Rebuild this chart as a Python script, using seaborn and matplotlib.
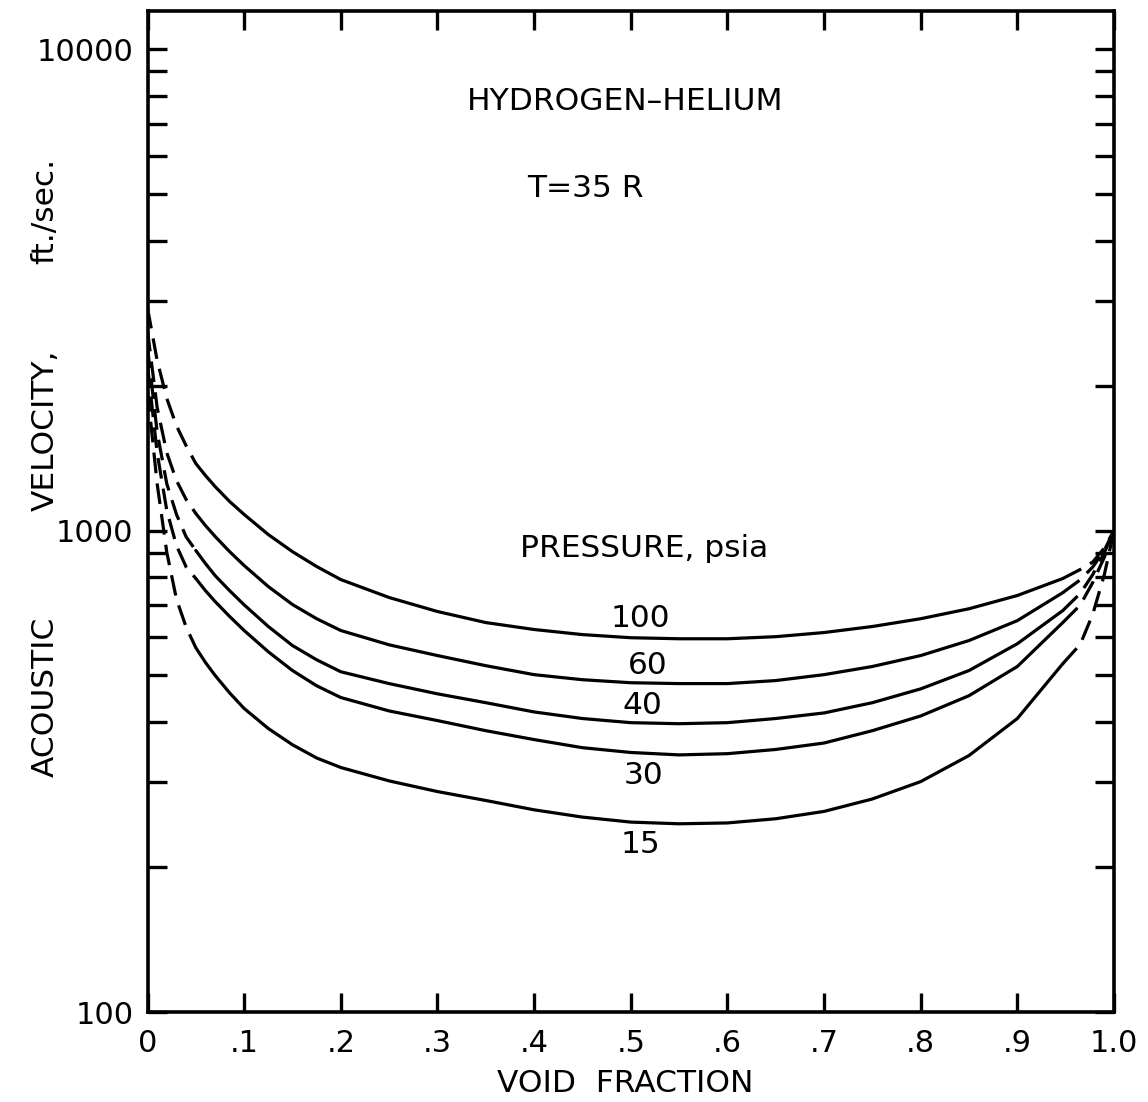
import numpy as np
import pandas as pd
import matplotlib
matplotlib.use("Agg")
import matplotlib.pyplot as plt
import seaborn as sns
from matplotlib.ticker import FixedLocator, NullFormatter, FixedFormatter

# ---------------- data ----------------
pressures = ["100", "60", "40", "30", "15"]

# solid portions of the curves
x_solid = [0.05, 0.06, 0.07, 0.085, 0.1, 0.125, 0.15, 0.175, 0.2, 0.25, 0.3, 0.35,
           0.4, 0.45, 0.5, 0.55, 0.6, 0.65, 0.7, 0.75, 0.8, 0.85, 0.9, 0.947]
v100_solid = [1378, 1301, 1234, 1149, 1080, 981, 904, 842, 791, 726, 679, 644,
              623, 608, 599, 596, 596, 602, 614, 632, 656, 688, 733, 795]
v60_solid = [1085, 1024, 972, 904, 846, 765, 702, 656, 620, 579, 550, 524,
             502, 490, 483, 481, 481, 488, 502, 522, 550, 591, 650, 743]
v40_solid = [909, 854, 806, 750, 701, 632, 577, 539, 509, 481, 458, 439,
             420, 407, 399, 397, 399, 407, 418, 439, 469, 512, 582, 682]
v30_solid = [795, 750, 712, 663, 620, 560, 512, 476, 450, 422, 403, 384,
             368, 354, 346, 342, 344, 351, 362, 384, 412, 454, 522, 644]
v15_solid = [571, 532, 500, 460, 427, 388, 359, 337, 322, 302, 287, 275,
             263, 254, 248, 246, 247, 252, 261, 277, 301, 341, 407, 529]

# dashed extrapolations toward void fraction 0
x_dash_left = [0.0, 0.01, 0.02, 0.03, 0.04, 0.05]
v100_left = [2900, 2255, 1880, 1650, 1500, 1378]
v60_left = [2600, 1800, 1450, 1270, 1160, 1085]
v40_left = [2400, 1600, 1250, 1080, 970, 909]
v30_left = [2200, 1450, 1100, 930, 840, 795]
v15_left = [1950, 1250, 900, 720, 630, 571]

# dashed extrapolations toward void fraction 1
x_dash_right = [0.947, 0.965, 0.978, 0.99, 1.0]
v100_right = [795, 830, 860, 920, 1000]
v60_right = [743, 790, 840, 910, 1000]
v40_right = [682, 740, 810, 900, 1000]
v30_right = [644, 700, 780, 880, 1000]
v15_right = [529, 580, 670, 810, 1000]

x_ticks = [0, 0.1, 0.2, 0.3, 0.4, 0.5, 0.6, 0.7, 0.8, 0.9, 1.0]
x_tick_labels = ["0", ".1", ".2", ".3", ".4", ".5", ".6", ".7", ".8", ".9", "1.0"]
y_ticks = [100, 1000, 10000]
y_tick_labels = ["100", "1000", "10000"]

label_pos = {"100": (0.51, 656), "60": (0.518, 524), "40": (0.512, 433),
             "30": (0.513, 310), "15": (0.51, 223)}

# ---------------- build long table ----------------
solid = {"100": v100_solid, "60": v60_solid, "40": v40_solid, "30": v30_solid, "15": v15_solid}
left = {"100": v100_left, "60": v60_left, "40": v40_left, "30": v30_left, "15": v15_left}
right = {"100": v100_right, "60": v60_right, "40": v40_right, "30": v30_right, "15": v15_right}

rows = []
for p in pressures:
    for x, v in zip(x_solid, solid[p]):
        rows.append((p, "solid", x, v))
    for x, v in zip(x_dash_left, left[p]):
        rows.append((p, "left", x, v))
    for x, v in zip(x_dash_right, right[p]):
        rows.append((p, "right", x, v))
df = pd.DataFrame(rows, columns=["pressure", "part", "void", "vel"])

# ---------------- plot ----------------
sns.set_style("ticks")
plt.rcParams["font.family"] = ["DejaVu Sans"]
for k in ["text.color", "axes.labelcolor", "xtick.color", "ytick.color", "axes.edgecolor"]:
    plt.rcParams[k] = "black"

FS = 22.5
fig = plt.figure(figsize=(11.48, 11.02), dpi=100)
ax = fig.add_axes([147.5 / 1148, 1 - 1012 / 1102, (1114 - 147.5) / 1148, (1012 - 11) / 1102])

for p in pressures:
    for part in ["solid", "left", "right"]:
        d = df[(df.pressure == p) & (df.part == part)]
        ls = "-" if part == "solid" else (0, (6.5, 3.2))
        sns.lineplot(data=d, x="void", y="vel", ax=ax, color="black", lw=2.3,
                     linestyle=ls, sort=False, estimator=None, legend=False)

ax.set_yscale("log")
ax.set_xlim(0, 1.0)
ax.set_ylim(100, 12000)

ax.xaxis.set_major_locator(FixedLocator(x_ticks))
ax.xaxis.set_major_formatter(FixedFormatter(x_tick_labels))
ax.yaxis.set_major_locator(FixedLocator(y_ticks))
ax.yaxis.set_major_formatter(FixedFormatter(y_tick_labels))
minor = [m * 10 ** e for e in (2, 3) for m in range(2, 10)]
ax.yaxis.set_minor_locator(FixedLocator(minor))
ax.yaxis.set_minor_formatter(NullFormatter())
ax.xaxis.set_minor_locator(FixedLocator([]))

ax.tick_params(axis="both", which="both", direction="in", top=True, right=True,
               length=14, width=2.4, color="black")
ax.tick_params(axis="x", which="major", labelsize=22, pad=12)
ax.tick_params(axis="y", which="major", labelsize=22, pad=10)
for s in ax.spines.values():
    s.set_linewidth(2.6)
    s.set_color("black")

ax.set_xlabel("")
ax.set_ylabel("")
ax.text(0.494, -0.071, "VOID  FRACTION", fontsize=FS, ha="center", va="center",
        transform=ax.transAxes)
ax.text(-0.106, 0.315, "ACOUSTIC", fontsize=FS, rotation=90, ha="center", va="center",
        transform=ax.transAxes)
ax.text(-0.106, 0.581, "VELOCITY,", fontsize=FS, rotation=90, ha="center", va="center",
        transform=ax.transAxes)
ax.text(-0.106, 0.80, "ft./sec.", fontsize=FS, rotation=90, ha="center", va="center",
        transform=ax.transAxes)

ax.text(0.494, 7770, "HYDROGEN\u2013HELIUM", fontsize=FS, ha="center", va="center")
ax.text(0.453, 5140, "T=35 R", fontsize=FS, ha="center", va="center")
ax.text(0.514, 917, "PRESSURE, psia", fontsize=FS, ha="center", va="center")
for p in pressures:
    lx, ly = label_pos[p]
    ax.text(lx, ly, p, fontsize=FS, ha="center", va="center")

fig.savefig("out.png", dpi=100, facecolor="white")
